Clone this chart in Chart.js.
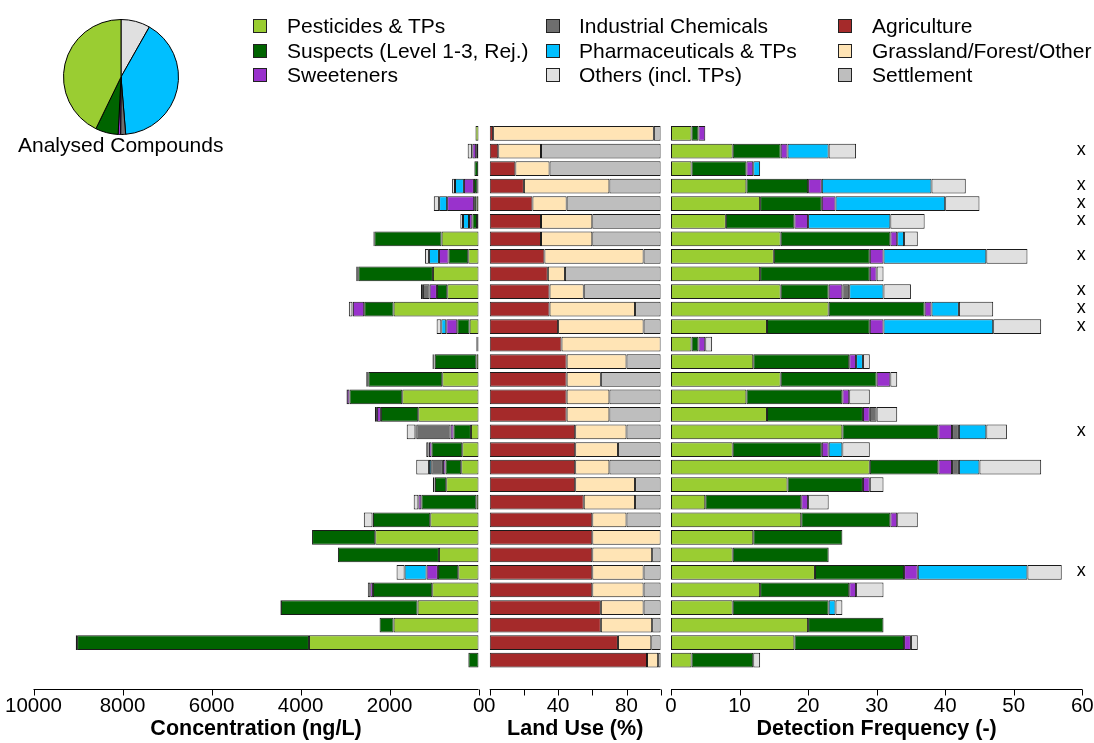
<!DOCTYPE html>
<html>
<head>
<meta charset="utf-8">
<script src="https://cdn.jsdelivr.net/npm/chart.js@4/dist/chart.umd.min.js"></script>
<style>
  body { margin: 0; background: #fff; font-family: "Liberation Sans", Arial, sans-serif; }
  #wrap { position: relative; width: 1094px; height: 743px; overflow: hidden; }
  canvas { position: absolute; }
  .lt { position: absolute; font-size: 21px; line-height: 24px; color: #000; white-space: nowrap; }
  .sw { position: absolute; width: 12px; height: 12px; border: 1px solid #222; }
</style>
</head>
<body>
<div id="wrap">
  <canvas id="pie" width="116" height="116" style="left:63px;top:19px"></canvas>
  <div class="lt" style="left:18px;top:133px">Analysed Compounds</div>
  <canvas id="conc" width="490" height="743" style="left:0;top:0"></canvas>
  <canvas id="land" width="183" height="743" style="left:482px;top:0"></canvas>
  <canvas id="det" width="432" height="743" style="left:662px;top:0"></canvas>
</div>
<script>
// sampling sites, top to bottom
const sites = Array.from({ length: 31 }, (_, i) => "Site " + (i + 1));

// compound groups
const groups = ["Pesticides & TPs", "Suspects (Level 1-3, Rej.)", "Sweeteners",
                "Industrial Chemicals", "Pharmaceuticals & TPs", "Others (incl. TPs)"];
const groupColors = ["#9acd32", "#006400", "#9932cc", "#6e6e6e", "#00bfff", "#e0e0e0"];

// land use classes
const landClasses = ["Agriculture", "Grassland/Forest/Other", "Settlement"];
const landColors = ["#a52a2a", "#ffe4b5", "#bebebe"];

// share of analysed compounds (%)
const analysed = [42.8, 6.4, 0.7, 1.4, 40.5, 8.2];

// concentration (ng/L)
const concPest  = [70,10,10,30,50,35,831,232,1026,704,1910,202,20,50,816,1715,1356,172,367,390,727,50,1086,2322,891,457,1041,1371,1910,3811,0];
const concSusp  = [0,45,85,75,50,105,1513,442,1678,232,660,277,30,936,1663,1186,839,390,689,352,255,1236,1288,1420,2270,457,1333,3070,315,5210,230];
const concSweet = [0,85,0,225,607,75,10,217,10,165,255,247,5,10,10,60,90,67,60,60,10,67,10,0,0,255,60,0,0,0,0];
const concInd   = [0,0,0,0,0,0,0,0,0,150,0,0,0,0,0,0,20,771,0,262,0,0,0,0,0,0,0,0,0,0,0];
const concPharm = [0,10,0,200,180,135,10,225,0,20,10,112,0,10,0,0,0,20,10,52,0,0,0,0,0,494,0,10,0,0,0];
const concOther = [0,95,0,65,120,60,10,90,35,25,80,105,5,30,35,10,25,195,50,285,35,105,195,0,0,180,55,10,0,30,0];

// land use (%)
const agri   = [2,5,15,20,25,30,30,32,34,35,35,40,42,45,45,45,45,50,50,50,50,55,60,60,60,60,60,65,65,75,92];
const grass  = [94,25,20,50,20,30,30,58,10,20,50,50,58,35,20,25,25,30,25,20,35,30,20,40,35,30,30,25,30,19.5,6.5];
const settle = [4,70,65,30,55,40,40,10,56,45,15,10,0,20,35,30,30,20,25,30,15,15,20,0,5,10,10,10,5,5.5,1.5];

// detection frequency (number of compounds)
const detPest  = [3,9,3,11,13,8,16,15,13,16,23,14,3,12,16,11,14,25,9,29,17,5,19,12,9,21,13,9,20,18,3];
const detSusp  = [1,7,8,9,9,10,16,14,16,7,14,15,1,14,14,14,14,14,13,10,11,14,13,13,14,13,13,14,11,16,9];
const detSweet = [1,1,1,2,2,2,1,2,1,2,1,2,1,1,2,1,1,2,1,2,1,1,1,0,0,2,1,0,0,1,0];
const detInd   = [0,0,0,0,0,0,0,0,0,1,0,0,0,0,0,0,1,1,0,1,0,0,0,0,0,0,0,0,0,0,0];
const detPharm = [0,6,1,16,16,12,1,15,0,5,4,16,0,1,0,0,0,4,2,3,0,0,0,0,0,16,0,1,0,0,0];
const detOther = [0,4,0,5,5,5,2,6,1,4,5,7,1,1,1,3,3,3,4,9,2,3,3,0,0,5,4,1,0,1,1];

// sites marked with "x" on the right
const marked = [2,4,5,6,8,10,11,12,18,26];

const FONT = "'Liberation Sans', Arial, sans-serif";
Chart.defaults.font.family = FONT;
Chart.defaults.color = "#000";

function nz(arr) { return arr.map(v => v === 0 ? null : v); }

function makeSets(series, colors) {
  return series.map((d, i) => ({
    data: nz(d),
    backgroundColor: colors[i],
    borderColor: "#1a1a1a",
    borderWidth: 1,
    borderSkipped: false,
    barPercentage: 0.84,
    categoryPercentage: 1
  }));
}

// axis line with tick marks, drawn a bit below the bars
const axisLine = {
  id: "axisLine",
  afterDraw(chart) {
    const s = chart.scales.x, ctx = chart.ctx;
    const y0 = Math.round(chart.chartArea.bottom + 20) + 0.5;
    ctx.save();
    ctx.strokeStyle = "#000";
    ctx.lineWidth = 1;
    ctx.beginPath();
    ctx.moveTo(s.left, y0);
    ctx.lineTo(s.right, y0);
    s.ticks.forEach((t, i) => {
      const px = Math.round(s.getPixelForTick(i)) + 0.5;
      ctx.moveTo(px, y0);
      ctx.lineTo(px, y0 + 6);
    });
    ctx.stroke();
    ctx.restore();
  }
};

// "x" markers at the right end of the detection panel
const markers = {
  id: "markers",
  afterDraw(chart) {
    const ctx = chart.ctx, xs = chart.scales.x, ys = chart.scales.y;
    ctx.save();
    ctx.font = "18px " + FONT;
    ctx.fillStyle = "#000";
    ctx.textAlign = "center";
    ctx.textBaseline = "middle";
    marked.forEach(n => {
      ctx.fillText("x", xs.getPixelForValue(60) - 1, ys.getPixelForValue(n - 1) - 1);
    });
    ctx.restore();
  }
};

function barChart(id, sets, opts) {
  return new Chart(document.getElementById(id), {
    type: "bar",
    data: { labels: sites, datasets: sets },
    options: {
      indexAxis: "y",
      responsive: false,
      animation: false,
      layout: { padding: { left: opts.padL, right: opts.padR, top: 124.7, bottom: 0 } },
      plugins: { legend: { display: false }, tooltip: { enabled: false } },
      scales: {
        y: { stacked: true, display: false },
        x: {
          stacked: true,
          min: 0,
          max: opts.max,
          reverse: !!opts.reverse,
          grid: { display: false, drawTicks: false },
          border: { display: false },
          ticks: {
            stepSize: opts.step,
            autoSkip: false,
            maxRotation: 0,
            padding: 25,
            font: { size: 20.5 },
            callback: opts.labels || (v => v)
          },
          title: {
            display: true,
            text: opts.title,
            font: { size: 21.5, weight: "bold" },
            padding: { top: 0, bottom: 1 }
          },
          afterFit(scale) {
            scale.height = 74;
            scale.paddingLeft = 0;
            scale.paddingRight = 0;
          }
        }
      }
    },
    plugins: opts.plugins
  });
}

barChart("conc",
  makeSets([concPest, concSusp, concSweet, concInd, concPharm, concOther], groupColors),
  { max: 10000, step: 2000, reverse: true, padL: 33.5, padR: 11.4,
    title: "Concentration (ng/L)", plugins: [axisLine] });

barChart("land",
  makeSets([agri, grass, settle], landColors),
  { max: 100, step: 20, padL: 7.7, padR: 4.3, title: "Land Use (%)",
    labels: v => (v % 40 === 0 && v < 100) ? v : "", plugins: [axisLine] });

barChart("det",
  makeSets([detPest, detSusp, detSweet, detInd, detPharm, detOther], groupColors),
  { max: 60, step: 10, padL: 9, padR: 11.7, title: "Detection Frequency (-)",
    plugins: [axisLine, markers] });

// pie of analysed compounds, drawn clockwise from the top in reverse order
new Chart(document.getElementById("pie"), {
  type: "pie",
  data: {
    labels: groups.slice().reverse(),
    datasets: [{
      data: analysed.slice().reverse(),
      backgroundColor: groupColors.slice().reverse(),
      borderColor: "#000",
      borderWidth: 1
    }]
  },
  options: {
    responsive: false,
    animation: false,
    plugins: { legend: { display: false }, tooltip: { enabled: false } }
  }
});

// legend
const legendItems = [
  [groups[0], groupColors[0]], [groups[1], groupColors[1]], [groups[2], groupColors[2]],
  [groups[3], groupColors[3]], [groups[4], groupColors[4]], [groups[5], groupColors[5]],
  [landClasses[0], landColors[0]], [landClasses[1], landColors[1]], [landClasses[2], landColors[2]]
];
const colSw = [253, 546, 838], colTx = [287, 579, 872], rowY = [26, 50.5, 75];
const wrap = document.getElementById("wrap");
legendItems.forEach((it, i) => {
  const c = Math.floor(i / 3), r = i % 3;
  const sw = document.createElement("div");
  sw.className = "sw";
  sw.style.left = colSw[c] + "px";
  sw.style.top = (rowY[r] - 7) + "px";
  sw.style.background = it[1];
  wrap.appendChild(sw);
  const tx = document.createElement("div");
  tx.className = "lt";
  tx.style.left = colTx[c] + "px";
  tx.style.top = (rowY[r] - 12) + "px";
  tx.textContent = it[0];
  wrap.appendChild(tx);
});
</script>
</body>
</html>
